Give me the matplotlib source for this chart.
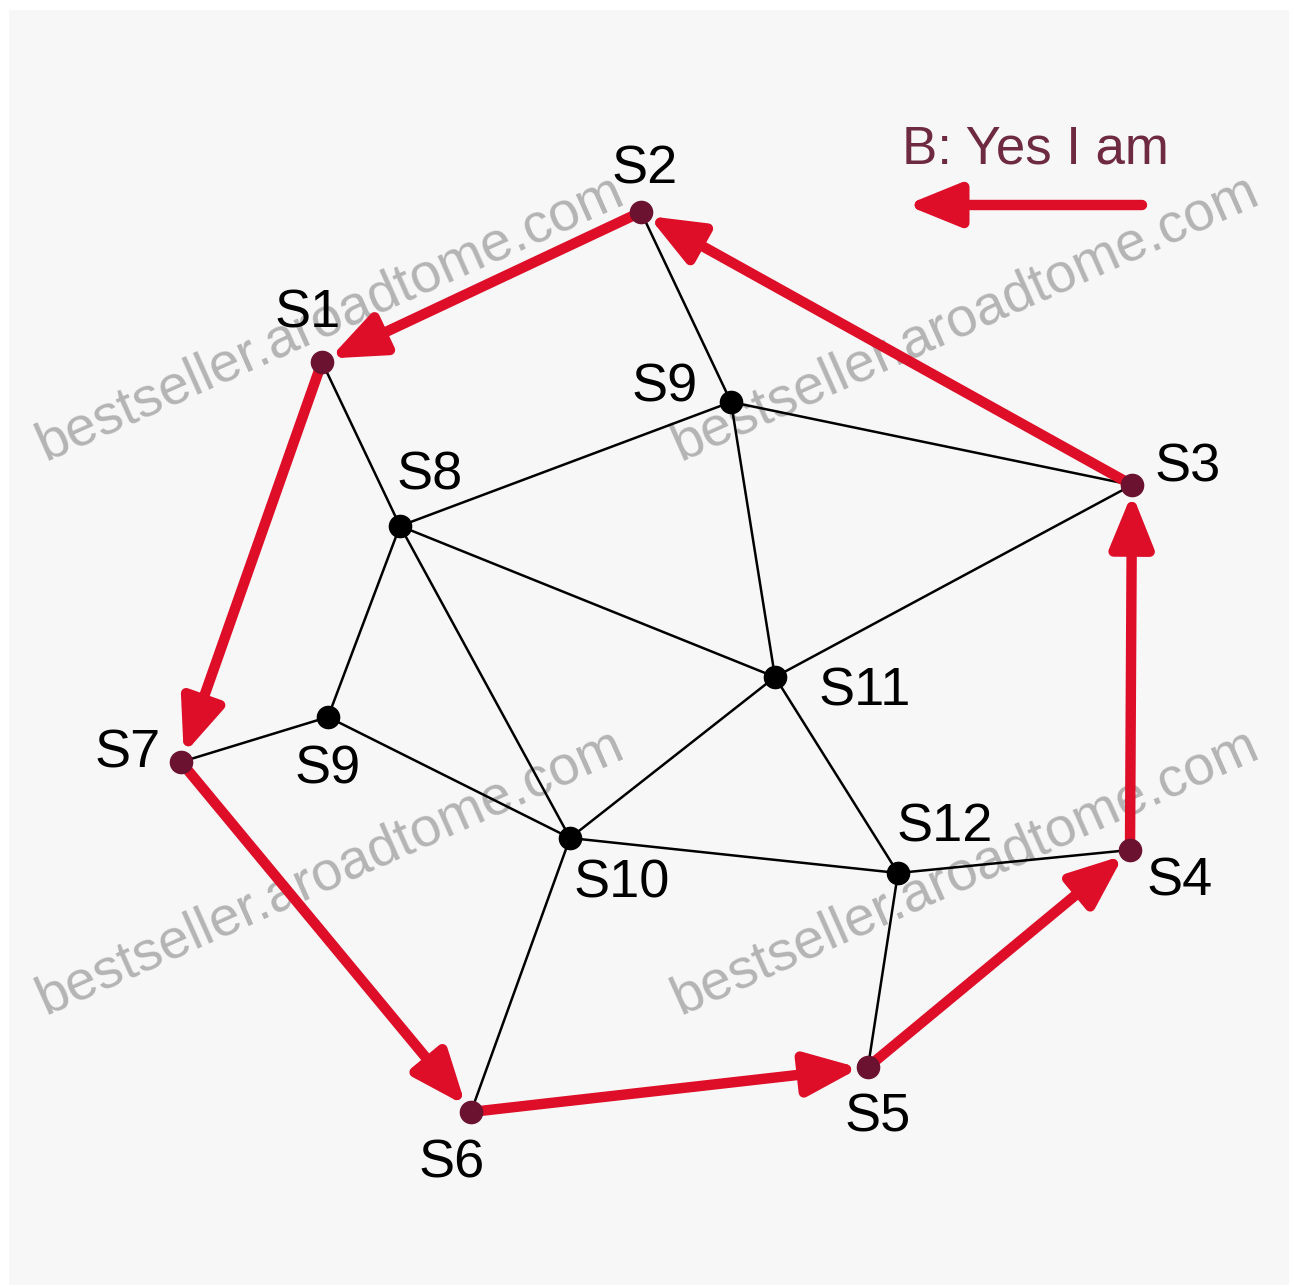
import matplotlib
matplotlib.use("Agg")

import matplotlib.pyplot as plt
from matplotlib.patches import FancyArrowPatch, Rectangle

# node positions (image pixel space, y down)
NODES = ["S1", "S2", "S3", "S4", "S5", "S6", "S7", "S8", "S9a", "S9b", "S10", "S11", "S12"]
NODE_X = [322, 641, 1132, 1130, 868, 471, 181, 400, 731, 328, 570, 775, 898]
NODE_Y = [362, 212, 485, 850, 1067, 1112, 762, 526, 402, 717, 838, 677, 873]
LABELS = ["S1", "S2", "S3", "S4", "S5", "S6", "S7", "S8", "S9", "S9", "S10", "S11", "S12"]
LABEL_X = [308, 645, 1188, 1180, 878, 452, 128, 430, 665, 328, 622, 865, 945]
LABEL_Y = [314, 170, 467, 882, 1117, 1164, 754, 476, 387, 770, 884, 692, 827]

EDGES = [
    ("S2", "S9a"), ("S1", "S8"), ("S9a", "S3"), ("S9a", "S8"), ("S9a", "S11"),
    ("S8", "S11"), ("S8", "S9b"), ("S8", "S10"), ("S3", "S11"), ("S7", "S9b"),
    ("S9b", "S10"), ("S11", "S10"), ("S11", "S12"), ("S10", "S12"),
    ("S12", "S4"), ("S12", "S5"), ("S10", "S6"),
]

# message path "B: Yes I am"
PATH = ["S3", "S2", "S1", "S7", "S6", "S5", "S4", "S3"]
MSG = "B: Yes I am"

WATERMARK = "bestseller.aroadtome.com"

RED = "#de0d28"
MAROON = "#6b1230"

pos = {n: (x, y) for n, x, y in zip(NODES, NODE_X, NODE_Y)}

fig = plt.figure(figsize=(12.94, 12.87), dpi=100)
ax = fig.add_axes([0, 0, 1, 1])
ax.set_xlim(0, 1294)
ax.set_ylim(1287, 0)
ax.axis("off")
ax.add_patch(Rectangle((9, 10), 1280, 1275, facecolor="#f7f7f7", edgecolor="none", zorder=0))

# watermark
for wx, wy in [(330, 318), (965, 318), (330, 872), (965, 872)]:
    ax.text(wx, wy, WATERMARK, rotation=24, ha="center", va="center",
            fontsize=40, color="#b4b4b4", family="Liberation Sans", zorder=1)

for a, b in EDGES:
    ax.plot([pos[a][0], pos[b][0]], [pos[a][1], pos[b][1]],
            color="black", lw=1.8, zorder=2)

on_path = set(PATH)
for n in NODES:
    c = MAROON if n in on_path else "black"
    ax.plot(pos[n][0], pos[n][1], "o", ms=16, color=c, zorder=5)

for a, b in zip(PATH[:-1], PATH[1:]):
    arr = FancyArrowPatch(pos[a], pos[b], arrowstyle="-|>,head_length=32,head_width=13",
                          mutation_scale=1, lw=7.5, color=RED, shrinkA=6, shrinkB=6,
                          zorder=4)
    ax.add_patch(arr)

for lab, lx, ly in zip(LABELS, LABEL_X, LABEL_Y):
    ax.text(lx, ly, lab, ha="center", va="center", fontsize=39,
            family="Liberation Sans", color="black", zorder=6)

# message legend
ax.text(1035, 150, MSG, ha="center", va="center", fontsize=38,
        family="Liberation Sans", color="#6e2a40", zorder=6)
ax.add_patch(FancyArrowPatch((1142, 205), (906, 205),
                             arrowstyle="-|>,head_length=32,head_width=13",
                             mutation_scale=1, lw=7.5, color=RED, shrinkA=0, shrinkB=0,
                             zorder=4))

fig.savefig("out.png", dpi=100, facecolor="white")
